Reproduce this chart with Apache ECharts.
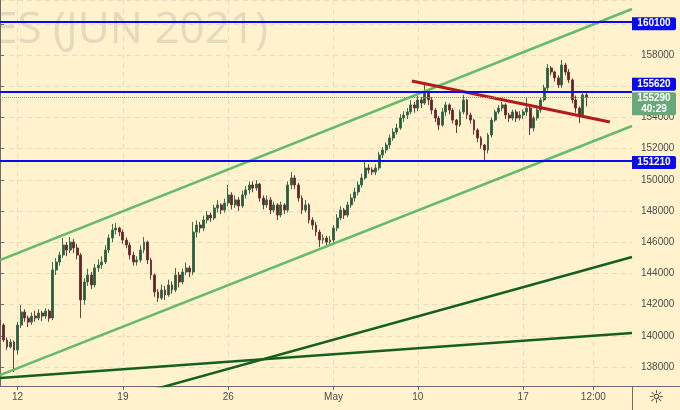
<!DOCTYPE html>
<html>
<head>
<meta charset="utf-8">
<title>ES (JUN 2021)</title>
<script src="https://cdn.jsdelivr.net/npm/echarts@6.0.0/dist/echarts.min.js"></script>
<style>
  html, body { margin: 0; padding: 0; background: #fff2cc; }
  #chart { width: 680px; height: 410px; }
</style>
</head>
<body>
<div id="chart"></div>
<script>
// 4h bars, the last ones are empty space on the right of the chart
const barCount = 181
const tickLabels = [[5, '12'], [35, '19'], [65, '26'], [95, 'May'], [119, '10'], [149, '17'], [169, '12:00']]

// [open, close, low, high]
const candles = [
  [141010, 140690, 140500, 141200], [140690, 139730, 139600, 140800], [139730, 139280, 139100, 139900],
  [139280, 139600, 139200, 139800], [139600, 139090, 137680, 139700], [139090, 140690, 138800, 140900],
  [140690, 141530, 140500, 141980], [141530, 141140, 140900, 141700], [141140, 140880, 140560, 141300],
  [140880, 141270, 140700, 141500], [141270, 141140, 140900, 141600], [141140, 141460, 141000, 141700],
  [141460, 141270, 140950, 141600], [141270, 141590, 141100, 141780], [141590, 141140, 140900, 141700],
  [141140, 144220, 141000, 144730], [144220, 144730, 143900, 144990], [144730, 145180, 144500, 145400],
  [145180, 145820, 145000, 146270], [145820, 145500, 145100, 146000], [145500, 146010, 145300, 146330],
  [146010, 145630, 145300, 146200], [145630, 145180, 144900, 145900], [145180, 142300, 141140, 145300],
  [142300, 143450, 142000, 143700], [143450, 143900, 143200, 144300], [143900, 143260, 143000, 144100],
  [143260, 144350, 143100, 144600], [144350, 144540, 144100, 144900], [144540, 144730, 144300, 145100],
  [144730, 145500, 144600, 145800], [145500, 146270, 145300, 146500], [146270, 146780, 146000, 147170],
  [146780, 146910, 146500, 147230], [146910, 146650, 146400, 147000], [146650, 146140, 145900, 146800],
  [146140, 145820, 145600, 146300], [145820, 145180, 144900, 146000], [145180, 144730, 144500, 145400],
  [144730, 144860, 144500, 145100], [144860, 145500, 144700, 145800], [145500, 146010, 145300, 146330],
  [146010, 144860, 144600, 146100], [144860, 143900, 143600, 145000], [143900, 142810, 142500, 144000],
  [142810, 142420, 142170, 143000], [142420, 142940, 142300, 143300], [142940, 142620, 142300, 143200],
  [142620, 143260, 142500, 143600], [143260, 142940, 142700, 143500], [142940, 143900, 142800, 144350],
  [143900, 143450, 143100, 144100], [143450, 144090, 143300, 144300], [144090, 144350, 143900, 144700],
  [144350, 144090, 143770, 144500], [144090, 146650, 143900, 147300], [146650, 147100, 146300, 147400],
  [147100, 146910, 146600, 147300], [146910, 147420, 146700, 147700], [147420, 147740, 147200, 148000],
  [147740, 147550, 147300, 147900], [147550, 148190, 147400, 148400], [148190, 148390, 147900, 148700],
  [148390, 148060, 147800, 148500], [148060, 148510, 147900, 148800], [148510, 149030, 148300, 149670],
  [149030, 148390, 148100, 149200], [148390, 148710, 148200, 149000], [148710, 148320, 148000, 148900],
  [148320, 149030, 148200, 149300], [149030, 149350, 148800, 149600], [149350, 149670, 149100, 149900],
  [149670, 149470, 149200, 149900], [149470, 149730, 149300, 149990], [149730, 148830, 148600, 149800],
  [148830, 148390, 148100, 149000], [148390, 148710, 148200, 149000], [148710, 148060, 147800, 148900],
  [148060, 148390, 147900, 148600], [148390, 147740, 147420, 148500], [147740, 148390, 147600, 148600],
  [148390, 148060, 147800, 148500], [148060, 149670, 147900, 149900], [149670, 150120, 149400, 150500],
  [150120, 149670, 149400, 150300], [149670, 148830, 148600, 149800], [148830, 148060, 147800, 149000],
  [148060, 148390, 147900, 148700], [148390, 147420, 147200, 148500], [147420, 147100, 146800, 147600],
  [147100, 146650, 146400, 147300], [146650, 146140, 145690, 146800], [146140, 146270, 145900, 146500],
  [146270, 146010, 145800, 146400], [146010, 146140, 145820, 146400], [146140, 146910, 145900, 147100],
  [146910, 147550, 146700, 147800], [147550, 148060, 147400, 148300], [148060, 147740, 147500, 148200],
  [147740, 148390, 147600, 148600], [148390, 148830, 148200, 149100], [148830, 149220, 148600, 149500],
  [149220, 149670, 149000, 149900], [149670, 150120, 149500, 150400], [150120, 150760, 150000, 151270],
  [150760, 150630, 150400, 151000], [150630, 150500, 150300, 150800], [150500, 150760, 150300, 151000],
  [150760, 151590, 150600, 151800], [151590, 151910, 151400, 152100], [151910, 152230, 151700, 152400],
  [152230, 152680, 152000, 152900], [152680, 153060, 152500, 153300], [153060, 153320, 152900, 153600],
  [153320, 153960, 153200, 154200], [153960, 154150, 153700, 154400], [154150, 154350, 153900, 154600],
  [154350, 154800, 154200, 155120], [154800, 154600, 154300, 155000], [154600, 155120, 154400, 155400],
  [155120, 154920, 154600, 155300], [154920, 155630, 154800, 156080], [155630, 155120, 154800, 155800],
  [155120, 154470, 154200, 155300], [154470, 153960, 153700, 154600], [153960, 153510, 153190, 154100],
  [153510, 154350, 153400, 154600], [154350, 154800, 154100, 155000], [154800, 154470, 154200, 154900],
  [154470, 153830, 153600, 154600], [153830, 153510, 153000, 153900], [153510, 154350, 153400, 154500],
  [154350, 155120, 154200, 155440], [155120, 154150, 153900, 155200], [154150, 153830, 153600, 154300],
  [153830, 153190, 152900, 153900], [153190, 152680, 152400, 153300], [152680, 152230, 152000, 152800],
  [152230, 151910, 151230, 152300], [151910, 152870, 151700, 153000], [152870, 153830, 152700, 154000],
  [153830, 154350, 153700, 154500], [154350, 154600, 154200, 154800], [154600, 154800, 154400, 154990],
  [154800, 154150, 153900, 154900], [154150, 153960, 153700, 154300], [153960, 154350, 153800, 154500],
  [154350, 153960, 153700, 154500], [153960, 154150, 153800, 154400], [154150, 154350, 153900, 154500],
  [154350, 154600, 154100, 155310], [154600, 153320, 152870, 154700], [153320, 153960, 153100, 154100],
  [153960, 154470, 153800, 154600], [154470, 155120, 154300, 155300], [155120, 155890, 155000, 156100],
  [155890, 157170, 155700, 157420], [157170, 156910, 156700, 157300], [156910, 156530, 156300, 157000],
  [156530, 156080, 155890, 156700], [156080, 157360, 155900, 157680], [157360, 156910, 156700, 157500],
  [156910, 156400, 156200, 157100], [156400, 155120, 154900, 156500], [155120, 154600, 154300, 155400],
  [154600, 154150, 153640, 154700], [154150, 155440, 154000, 155630], [155440, 155290, 154700, 155600]
]

const levels = [160100, 155620, 151210]
const lastPrice = 155290
const countdown = '40:29'
const priceMin = 136783
const priceMax = 161526

// trend lines, [bar, price] end points
const channelTop = [[0, 144860], [180, 160949]]
const channelBottom = [[0, 137488], [180, 153449]]
const supportSteep = [[28.5, 135604], [180, 145052]]
const supportFlat = [[0, 137296], [180, 140181]]
const resistance = [[117.3, 156334], [173.7, 153706]]

const bg = '#fff2cc'
const gridColor = '#e6dbbd'
const axisColor = '#6b6b6b'
const textColor = '#4d4d4d'
const font = '"Liberation Sans", Arial, sans-serif'

const tickText = {}
tickLabels.forEach(([i, t]) => { tickText[i] = t })
const isTick = (i) => tickText[i] !== undefined
const categories = []
for (let i = 0; i < barCount; i++) categories.push(String(i))

function trend(data, color, width) {
  return {
    type: 'line',
    xAxisIndex: 1,
    data: data,
    showSymbol: false,
    silent: true,
    clip: true,
    z: 4,
    lineStyle: { color: color, width: width }
  }
}

const chart = echarts.init(document.getElementById('chart'))
chart.setOption({
  backgroundColor: bg,
  animation: false,
  grid: { left: 0, right: 48, top: 0, bottom: 24 },
  xAxis: [{
    type: 'category',
    data: categories,
    boundaryGap: false,
    axisLine: { lineStyle: { color: axisColor } },
    axisTick: { interval: isTick, length: 4, lineStyle: { color: axisColor } },
    axisLabel: {
      interval: isTick,
      formatter: (v, i) => tickText[i] || '',
      color: textColor, fontSize: 10, fontFamily: font, margin: 6
    },
    splitLine: { show: true, interval: isTick, lineStyle: { color: gridColor, type: [5, 4] } }
  }, {
    type: 'value', min: 0, max: barCount - 1, show: false
  }],
  yAxis: {
    type: 'value',
    position: 'right',
    min: priceMin,
    max: priceMax,
    minInterval: 2000,
    maxInterval: 2000,
    splitNumber: 12,
    axisLine: { show: true, lineStyle: { color: axisColor } },
    axisTick: { show: true, length: 4, lineStyle: { color: axisColor } },
    axisLabel: {
      showMinLabel: false, showMaxLabel: false,
      formatter: (v) => String(v),
      color: textColor, fontSize: 10, fontFamily: font, margin: 9
    },
    splitLine: { show: true, lineStyle: { color: gridColor, type: [5, 4] } }
  },
  series: [
    {
      type: 'candlestick',
      data: candles,
      barWidth: 2.4,
      z: 3,
      itemStyle: {
        color: '#1f5e38', color0: '#6e1f1f',
        borderColor: '#3f6e50', borderColor0: '#6f3a3a', borderWidth: 1
      },
      markLine: {
        silent: true,
        symbol: ['none', 'none'],
        label: { show: false },
        data: levels.map(v => ({ yAxis: v, lineStyle: { color: '#0a0aee', width: 2, type: 'solid' } }))
          .concat([{ yAxis: lastPrice, lineStyle: { color: '#6aa87a', width: 1, type: 'dotted' } }])
      }
    },
    trend(channelTop, '#66bb6a', 2.5),
    trend(channelBottom, '#66bb6a', 2.5),
    trend(supportSteep, '#14601f', 2.5),
    trend(supportFlat, '#14601f', 2.5),
    trend(resistance, '#b01c1c', 3)
  ]
})

// price scale labels, TradingView style
const yOf = (v) => chart.convertToPixel({ yAxisIndex: 0 }, v)
const levelShift = [1.5, -8, 1.5]
const graphics = [
  {
    type: 'text', x: 268, y: 30, z: -1, silent: true,
    style: {
      text: 'FUTURES (JUN 2021)', fill: '#e4d9bc',
      font: '44px "Open Sans", sans-serif',
      align: 'right', verticalAlign: 'middle', textAlign: 'right', textVerticalAlign: 'middle'
    }
  },
  { type: 'line', z: 50, shape: { x1: 632, y1: 386.5, x2: 680, y2: 386.5 }, style: { stroke: axisColor, lineWidth: 1 } },
  { type: 'line', z: 50, shape: { x1: 632.5, y1: 386, x2: 632.5, y2: 410 }, style: { stroke: axisColor, lineWidth: 1 } },
  {
    type: 'text', x: 656, y: 398, z: 50,
    style: { text: '☼', fill: '#333', font: '18px "DejaVu Sans"', align: 'center', verticalAlign: 'middle', textAlign: 'center', textVerticalAlign: 'middle' }
  }
]
levels.forEach((v, k) => {
  const y = yOf(v) + levelShift[k]
  graphics.push({
    type: 'rect', z: 100,
    shape: { x: 632, y: y - 6.5, width: 44, height: 13, r: [0, 2, 2, 0] },
    style: { fill: '#0a0aee' }
  })
  graphics.push({
    type: 'text', x: 654, y: y, z: 101,
    style: { text: String(v), fill: '#fff', font: 'bold 10px ' + font, align: 'center', verticalAlign: 'middle', textAlign: 'center', textVerticalAlign: 'middle' }
  })
})
const py = yOf(lastPrice)
graphics.push({
  type: 'rect', z: 100,
  shape: { x: 632, y: py - 5, width: 44, height: 23, r: [0, 2, 2, 0] },
  style: { fill: '#6aa87a' }
})
graphics.push({
  type: 'text', x: 654, y: py + 1, z: 101,
  style: { text: String(lastPrice), fill: '#fff', font: 'bold 10px ' + font, align: 'center', verticalAlign: 'middle', textAlign: 'center', textVerticalAlign: 'middle' }
})
graphics.push({
  type: 'text', x: 654, y: py + 12, z: 101,
  style: { text: countdown, fill: '#fff', font: 'bold 10px ' + font, align: 'center', verticalAlign: 'middle', textAlign: 'center', textVerticalAlign: 'middle' }
})
chart.setOption({ graphic: graphics })
</script>
</body>
</html>
